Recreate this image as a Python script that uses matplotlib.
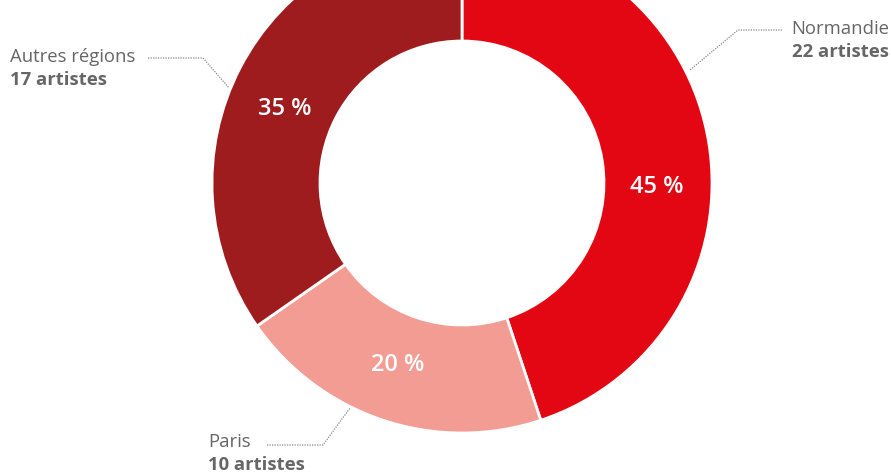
import matplotlib.pyplot as plt

# data
regions = ['Normandie', 'Paris', 'Autres régions']
artists = [22, 10, 17]
colors = ['#e30613', '#f39c94', '#9e1b1e']

W, H = 891, 475
fig = plt.figure(figsize=(W / 100, H / 100), dpi=100)
ax = fig.add_axes([0, 0, 1, 1])

cx, cy, r = 462, H - 183, 250
wedges, _, pcts = ax.pie(
    artists, colors=colors, startangle=90, counterclock=False,
    center=(cx, cy), radius=r, frame=True,
    autopct=lambda p: f'{p:.0f} %', pctdistance=0.78,
    wedgeprops=dict(width=r - 142, edgecolor='white', linewidth=2),
    textprops=dict(color='white', fontsize=17, family='Open Sans',
                   fontweight='semibold'),
)

# percentage labels sit where the original placed them, not at mid-angle
pct_pos = [(657, 187), (398, 365), (285, 109)]
for t, (x, y) in zip(pcts, pct_pos):
    t.set_position((x, H - y))
    t.set_ha('center')
    t.set_va('center')

ax.set_xlim(0, W)
ax.set_ylim(0, H)
ax.axis('off')

grey = '#666666'
lead = dict(color='#888888', lw=0.9, ls=(0, (1, 1)))

# leader lines (pixel coords, y from top)
def line(pts):
    ax.plot([p[0] for p in pts], [H - p[1] for p in pts], **lead)

line([(148, 58), (203, 58), (229, 88)])
line([(782, 30), (738, 30), (690, 70)])
line([(267, 445), (323, 445), (350, 408)])

def label(x, y, name, count, ha):
    ax.text(x, H - y, name, ha=ha, va='baseline', fontsize=13.3,
            color=grey, family='Open Sans')
    ax.text(x, H - y - 23, f'{count} artistes', ha=ha, va='baseline',
            fontsize=13.3, color=grey, family='Open Sans', fontweight='bold')

label(10, 62, regions[2], artists[2], 'left')
label(889, 34, regions[0], artists[0], 'right')
label(208, 447, regions[1], artists[1], 'left')

fig.savefig('out.png', dpi=100)
